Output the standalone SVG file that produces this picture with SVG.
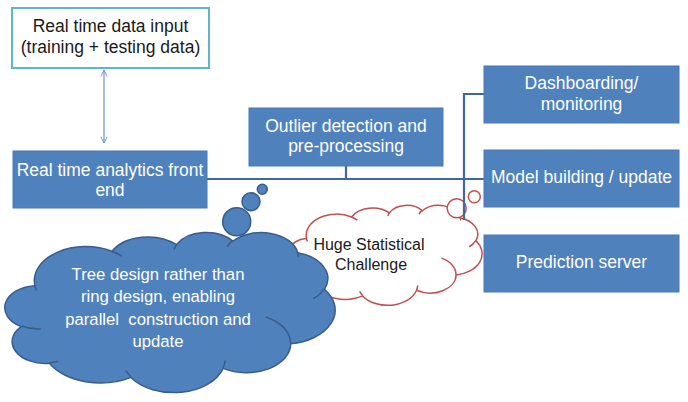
<svg xmlns="http://www.w3.org/2000/svg" width="688" height="402" viewBox="0 0 688 402">
<style>
.box{fill:#4f81bd;stroke:#4a7bb7;stroke-width:1}
.wt{fill:#ffffff;font-family:"Liberation Sans",Arial,sans-serif;font-size:17.5px;text-anchor:middle}
.bt{fill:#1a1a1a;font-family:"Liberation Sans",Arial,sans-serif;font-size:17.5px;text-anchor:middle}
.conn{stroke:#41689e;stroke-width:2.2;fill:none}
.blue{fill:#4f81bd;stroke:#385d8a;stroke-width:1.5}
.red{fill:#ffffff;stroke:#c0504d;stroke-width:1.5}
.crease{fill:none}
</style>
<defs>
<path id="cloud" vector-effect="non-scaling-stroke" d="M 3900 14370 A 6753 9190 0 0 1 14005 5202 A 5333 7267 0 0 1 22456 3432 A 4365 5945 0 0 1 29834 2480 A 4857 6595 0 0 1 38319 5575 A 5333 7273 0 0 1 41819 15459 A 6775 9220 0 0 1 37405 30203 A 5785 7867 0 0 1 28557 36813 A 6752 9215 0 0 1 16482 39265 A 7720 10543 0 0 1 5806 35468 A 4360 5918 0 0 1 2115 25546 A 4345 5945 0 0 1 3865 14503 Z"/>
<path id="creases" vector-effect="non-scaling-stroke" d="M 4693 26177 A 4345 5945 0 0 1 2160 25380 M 6928 34899 A 4360 5918 0 0 1 5819 35281 M 16478 39090 A 6752 9215 0 0 1 15810 37349 M 28827 34751 A 6752 9215 0 0 1 28560 36660 M 34129 22954 A 5785 7867 0 0 1 37381 30090 M 41798 15354 A 5333 7273 0 0 1 40351 18029 M 38324 5426 A 4857 6595 0 0 1 38400 6690 M 29078 3952 A 4857 6595 0 0 1 29820 2339 M 22141 4720 A 4365 5945 0 0 1 22504 3320 M 14000 5192 A 6753 9190 0 0 1 15300 6541 M 4127 15789 A 6753 9190 0 0 1 3900 14371"/>
<marker id="ah" viewBox="0 0 10 10" refX="9" refY="5" markerWidth="8" markerHeight="8" orient="auto-start-reverse" markerUnits="userSpaceOnUse">
<path d="M1 1 L9 5 L1 9" fill="none" stroke="#6d93c7" stroke-width="1.2"/>
</marker>
</defs>
<rect width="688" height="402" fill="#ffffff"/>

<g id="red-cloud">
<use href="#cloud" class="red" transform="translate(289,205) scale(0.0044676,0.0023148)"/>
<use href="#creases" class="red crease" transform="translate(289,205) scale(0.0044676,0.0023148)" style="fill:none"/>
<circle cx="456.7" cy="208.3" r="9.5" class="red"/>
<circle cx="474.3" cy="196.7" r="6" class="red"/>
<circle cx="489" cy="189" r="2.8" class="red"/>
<text class="bt" style="font-size:16px" x="369" y="250">Huge Statistical</text>
<text class="bt" style="font-size:16px" x="371" y="270">Challenge</text>
</g>

<g id="connectors">
<line x1="104" y1="70" x2="104" y2="143" stroke="#6d93c7" stroke-width="1.2" marker-start="url(#ah)" marker-end="url(#ah)"/>
<line class="conn" x1="207" y1="179" x2="485" y2="179"/>
<line class="conn" x1="346" y1="166" x2="346" y2="179"/>
<polyline class="conn" points="485,94 464,94 464,220"/>
</g>

<g id="input">
<rect x="12" y="8" width="197" height="60" fill="#ffffff" stroke="#5fb6c8" stroke-width="2"/>
<text class="bt" x="110.5" y="32">Real time data input</text>
<text class="bt" x="110.5" y="53">(training + testing data)</text>
</g>

<g id="frontend">
<rect class="box" x="13" y="151" width="194" height="57"/>
<text class="wt" x="110" y="176">Real time analytics front</text>
<text class="wt" x="110" y="196">end</text>
</g>

<g id="outlier">
<rect class="box" x="249" y="108" width="194" height="58"/>
<text class="wt" x="346" y="132">Outlier detection and</text>
<text class="wt" x="346" y="152">pre-processing</text>
</g>

<g id="dashboard">
<rect class="box" x="484" y="66" width="195" height="57"/>
<text class="wt" x="581.5" y="89">Dashboarding/</text>
<text class="wt" x="581.5" y="110">monitoring</text>
</g>

<g id="model">
<rect class="box" x="484" y="150" width="195" height="57"/>
<text class="wt" x="581.5" y="183">Model building / update</text>
</g>

<g id="prediction">
<rect class="box" x="484" y="235" width="195" height="57"/>
<text class="wt" x="581.5" y="268">Prediction server</text>
</g>

<g id="blue-cloud">
<circle cx="236.7" cy="221.7" r="14" class="blue"/>
<circle cx="251" cy="201.7" r="9" class="blue"/>
<circle cx="262.3" cy="189.3" r="5" class="blue"/>
<use href="#cloud" class="blue" transform="translate(5,232) scale(0.0076389,0.0037037)"/>
<use href="#creases" class="blue" style="fill:none" transform="translate(5,232) scale(0.0076389,0.0037037)"/>
<text class="wt" style="font-size:16.7px" x="158" y="280">Tree design rather than</text>
<text class="wt" style="font-size:16.7px" x="158" y="302">ring design, enabling</text>
<text class="wt" style="font-size:16.7px" x="158" y="325" xml:space="preserve">parallel  construction and</text>
<text class="wt" style="font-size:16.7px" x="158" y="347">update</text>
</g>
</svg>
